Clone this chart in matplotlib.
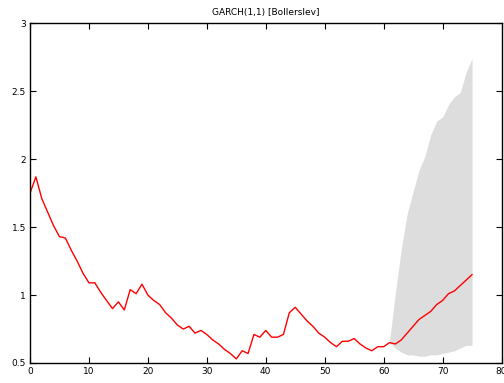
import numpy as np
import matplotlib
matplotlib.use("Agg")
import matplotlib.pyplot as plt

# Conditional volatility series (observations 0..75)
obs = list(range(76))
sigma = [1.75, 1.87, 1.71, 1.61, 1.51, 1.43, 1.42, 1.33, 1.25, 1.16,
         1.09, 1.09, 1.02, 0.96, 0.90, 0.95, 0.89, 1.04, 1.01, 1.08,
         1.00, 0.96, 0.93, 0.87, 0.83, 0.78, 0.75, 0.77, 0.72, 0.74,
         0.71, 0.67, 0.64, 0.60, 0.57, 0.53, 0.59, 0.57, 0.71, 0.69,
         0.74, 0.69, 0.69, 0.71, 0.87, 0.91, 0.86, 0.81, 0.77, 0.72,
         0.69, 0.65, 0.62, 0.66, 0.66, 0.68, 0.64, 0.61, 0.59, 0.62,
         0.62, 0.65, 0.64, 0.67, 0.72, 0.77, 0.82, 0.85, 0.88, 0.93,
         0.96, 1.01, 1.03, 1.07, 1.11, 1.15]

# Forecast interval (observations 61..75)
fc_obs = list(range(61, 76))
fc_low = [0.65, 0.61, 0.58, 0.56, 0.56, 0.55, 0.55, 0.56, 0.56, 0.57,
          0.58, 0.59, 0.61, 0.63, 0.63]
fc_high = [0.66, 1.02, 1.34, 1.60, 1.76, 1.92, 2.02, 2.18, 2.28, 2.31,
           2.40, 2.46, 2.49, 2.64, 2.74]

x_ticks = [0, 10, 20, 30, 40, 50, 60, 70, 80]
y_ticks = [0.5, 1, 1.5, 2, 2.5, 3]
y_labels = ["0.5", "1", "1.5", "2", "2.5", "3"]

plt.rcParams["font.family"] = ["DejaVu Sans"]
fig = plt.figure(figsize=(5.04, 3.83), dpi=100)
ax = fig.add_axes([30 / 504, 1 - 363 / 383, 471.5 / 504, 339.7 / 383])

ax.fill_between(fc_obs, fc_low, fc_high, color="#dddddd", linewidth=0, zorder=1)
ax.plot(obs, sigma, color="#ff0000", linewidth=1.0, zorder=2)

ax.set_xlim(0, 80)
ax.set_ylim(0.5, 3)
ax.set_xticks(x_ticks)
ax.set_xticklabels([str(t) for t in x_ticks])
ax.set_yticks(y_ticks)
ax.set_yticklabels(y_labels)
ax.tick_params(direction="in", length=4, width=0.8, top=True, right=True,
               labelsize=6.5, colors="black", pad=3)
for s in ax.spines.values():
    s.set_linewidth(1.0)
    s.set_color("black")

ax.set_title("GARCH(1,1) [Bollerslev]", fontsize=6.5, pad=6)

fig.savefig("out.png", dpi=100)
